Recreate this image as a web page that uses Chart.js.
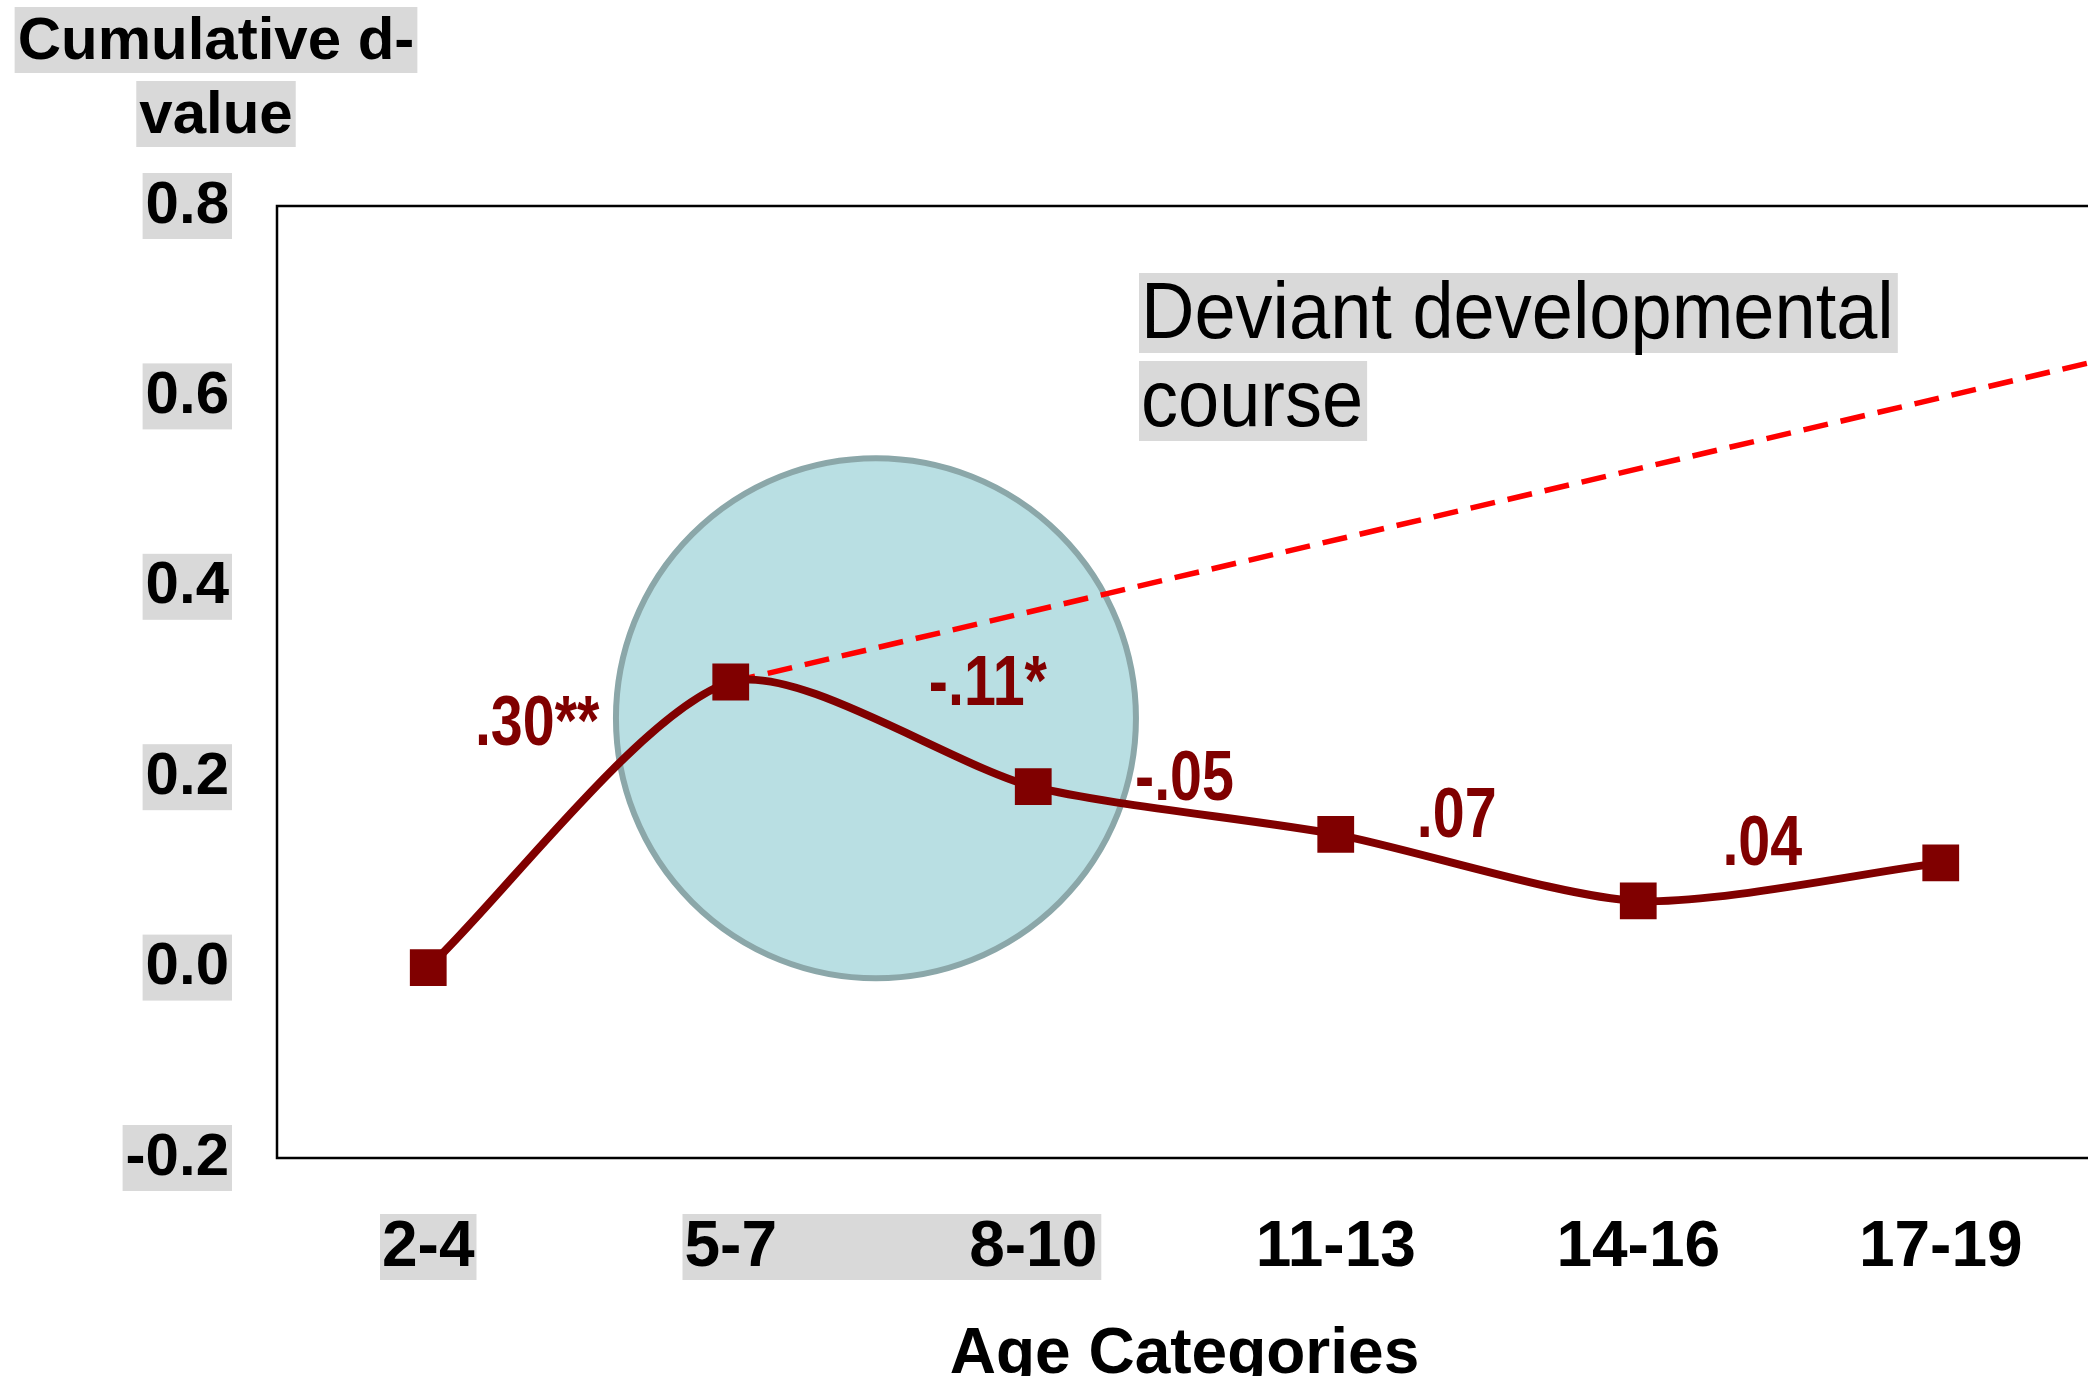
<!DOCTYPE html>
<html>
<head>
<meta charset="utf-8">
<script src="https://cdn.jsdelivr.net/npm/chart.js@4.4.1/dist/chart.umd.min.js"></script>
<style>
  html, body { margin: 0; padding: 0; background: #fff; overflow: hidden; }
  #wrap { position: relative; width: 2096px; height: 1400px; }
</style>
</head>
<body>
<div id="wrap"><canvas id="devChart"></canvas></div>
<script>
// --- data ---
const ageCategories = ['2-4', '5-7', '8-10', '11-13', '14-16', '17-19'];
const cumulativeD = [0, 0.30, 0.19, 0.14, 0.07, 0.11];
const deviantX = [1, 5.5];          // dashed "deviant course" line, category index
const deviantY = [0.30, 0.636];
const yTicks = [-0.2, 0, 0.2, 0.4, 0.6, 0.8];
const stepLabels = ['.30**', '-.11*', '-.05', '.07', '.04'];
const stepLabelX = [0.36, 1.85, 2.50, 3.40, 4.41];
const stepLabelY = [0.257, 0.299, 0.199, 0.161, 0.131];
const circleX = 1.48, circleY = 0.262, circleR = 260;

const SANS = '"Liberation Sans", Arial, sans-serif';
const DARK_RED = '#800000';
const HILITE = '#d9d9d9';
const TICK_SIZE = 64;

// grey text highlights, axis caption, frame and the segment labels
const decorPlugin = {
  id: 'decor',
  beforeDraw(chart) {
    const { ctx, chartArea, scales: { x } } = chart;
    ctx.save();
    ctx.fillStyle = HILITE;

    // x tick highlights: "2-4" alone, "5-7" .. "8-10" as one band
    ctx.font = `bold ${TICK_SIZE}px ${SANS}`;
    const top = chartArea.bottom + 56, h = 66;
    const half = i => ctx.measureText(ageCategories[i]).width / 2;
    const c0 = x.getPixelForValue(0);
    ctx.fillRect(c0 - half(0) - 2, top, 2 * half(0) + 4, h);
    const l = x.getPixelForValue(1) - half(1) - 2;
    const r = x.getPixelForValue(2) + half(2) + 4;
    ctx.fillRect(l, top, r - l, h);

    // y axis caption in the top-left corner
    ctx.font = `bold 60px ${SANS}`;
    ctx.textAlign = 'center';
    ctx.textBaseline = 'middle';
    const cap = ['Cumulative d-', 'value'];
    const capY = [40, 114];
    cap.forEach((t, i) => {
      const w = ctx.measureText(t).width;
      ctx.fillStyle = HILITE;
      ctx.fillRect(216 - w / 2 - 3, capY[i] - 33, w + 6, 66);
      ctx.fillStyle = '#000';
      ctx.fillText(t, 216, capY[i] + 2);
    });
    ctx.restore();
  },
  beforeDatasetsDraw(chart) {
    const { ctx, chartArea } = chart;
    ctx.save();
    ctx.strokeStyle = '#000';
    ctx.lineWidth = 2.5;
    ctx.strokeRect(chartArea.left, chartArea.top, chartArea.right - chartArea.left, chartArea.bottom - chartArea.top);
    ctx.restore();
  },
  afterDraw(chart) {
    const { ctx, scales: { x, y } } = chart;
    ctx.save();

    // "Deviant developmental course" note
    const note = ['Deviant developmental', 'course'];
    const noteY = [313, 401];
    const sx = 0.925;
    ctx.font = `80px ${SANS}`;
    ctx.textAlign = 'left';
    ctx.textBaseline = 'middle';
    note.forEach((t, i) => {
      const w = ctx.measureText(t).width * sx;
      ctx.fillStyle = HILITE;
      ctx.fillRect(1139, noteY[i] - 40, w + 6, 80);
      ctx.save();
      ctx.translate(1141, noteY[i] + 3);
      ctx.scale(sx, 1);
      ctx.fillStyle = '#000';
      ctx.fillText(t, 0, 0);
      ctx.restore();
    });

    // change labels between age groups (narrow bold)
    ctx.font = `bold 70px ${SANS}`;
    ctx.textAlign = 'center';
    ctx.fillStyle = DARK_RED;
    stepLabels.forEach((t, i) => {
      ctx.save();
      ctx.translate(x.getPixelForValue(stepLabelX[i]), y.getPixelForValue(stepLabelY[i]) + 3);
      ctx.scale(0.82, 1);
      ctx.fillText(t, 0, 0);
      ctx.restore();
    });
    ctx.restore();
  }
};

const ctx = document.getElementById('devChart').getContext('2d');
new Chart(ctx, {
  type: 'line',
  data: {
    datasets: [
      {
        type: 'line',
        data: cumulativeD.map((v, i) => ({ x: i, y: v })),
        borderColor: DARK_RED,
        borderWidth: 8,
        tension: 0.25,
        pointStyle: 'rect',
        pointRadius: 26,
        pointBackgroundColor: DARK_RED,
        pointBorderWidth: 0,
        order: 1
      },
      {
        type: 'line',
        data: deviantX.map((v, i) => ({ x: v, y: deviantY[i] })),
        borderColor: '#ff0000',
        borderWidth: 5.5,
        borderDash: [25, 13],
        pointRadius: 0,
        order: 2
      },
      {
        type: 'bubble',
        data: [{ x: circleX, y: circleY, r: circleR }],
        backgroundColor: '#b9dfe3',
        borderColor: '#8ba7a9',
        borderWidth: 6,
        order: 3
      }
    ]
  },
  options: {
    animation: false,
    responsive: true,
    maintainAspectRatio: false,
    layout: { autoPadding: false, padding: { top: 206, right: 4, left: 0, bottom: 0 } },
    plugins: { legend: { display: false }, tooltip: { enabled: false } },
    scales: {
      x: {
        type: 'linear',
        min: -0.5,
        max: 5.5,
        afterBuildTicks: s => { s.ticks = ageCategories.map((c, i) => ({ value: i })); },
        afterFit: s => { s.height = 242; },
        grid: { display: false, drawTicks: false },
        border: { display: false },
        ticks: {
          callback: v => ageCategories[v],
          font: { family: SANS, size: TICK_SIZE, weight: 'bold' },
          color: '#000',
          padding: 52,
          maxRotation: 0,
          autoSkip: false
        },
        title: {
          display: true,
          text: 'Age Categories',
          font: { family: SANS, size: 64, weight: 'bold' },
          color: '#000',
          padding: { top: 0, bottom: 6 }
        }
      },
      y: {
        min: -0.2,
        max: 0.8,
        afterBuildTicks: s => { s.ticks = yTicks.map(v => ({ value: v })); },
        afterFit: s => { s.width = 277; },
        grid: { display: false, drawTicks: false },
        border: { display: false },
        ticks: {
          callback: v => v.toFixed(1),
          font: { family: SANS, size: 60, weight: 'bold', lineHeight: 1 },
          color: '#000',
          padding: 48,
          showLabelBackdrop: true,
          backdropColor: HILITE,
          backdropPadding: { x: 3, y: 3 }
        }
      }
    }
  },
  plugins: [decorPlugin]
});
</script>
</body>
</html>
